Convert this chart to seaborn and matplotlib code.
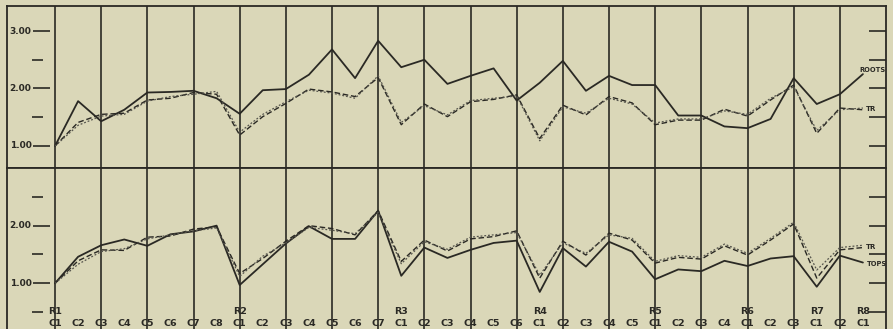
import numpy as np
import pandas as pd
import matplotlib
matplotlib.use("Agg")
import matplotlib.pyplot as plt
import seaborn as sns

# ---------------------------------------------------------------
# data (36 positions, R1 C1 .. R8 C1)
# ---------------------------------------------------------------
groups = ["R1", "R2", "R3", "R4", "R5", "R6", "R7", "R8"]
group_sizes = [8, 7, 6, 5, 4, 3, 2, 1]

roots = [1.00, 1.78, 1.43, 1.63, 1.93, 1.94, 1.96, 1.83,
         1.56, 1.97, 1.99, 2.24, 2.68, 2.18, 2.83,
         2.37, 2.50, 2.08, 2.22, 2.35, 1.79,
         2.10, 2.48, 1.96, 2.22, 2.06,
         2.06, 1.53, 1.53, 1.34,
         1.31, 1.47, 2.18,
         1.73, 1.90,
         2.25]
tr_top = [1.00, 1.41, 1.55, 1.57, 1.80, 1.83, 1.93, 1.90,
          1.19, 1.51, 1.74, 1.99, 1.94, 1.86, 2.19,
          1.37, 1.73, 1.51, 1.77, 1.81, 1.89,
          1.13, 1.71, 1.54, 1.86, 1.75,
          1.37, 1.45, 1.45, 1.64,
          1.52, 1.80, 2.06,
          1.22, 1.66,
          1.63]
tr2_top = [1.00, 1.36, 1.52, 1.55, 1.78, 1.86, 1.90, 1.95,
           1.24, 1.55, 1.77, 1.97, 1.92, 1.83, 2.22,
           1.41, 1.70, 1.54, 1.79, 1.83, 1.87,
           1.09, 1.68, 1.57, 1.83, 1.73,
           1.40, 1.47, 1.47, 1.61,
           1.55, 1.83, 2.03,
           1.27, 1.63,
           1.66]

tops = [1.00, 1.46, 1.66, 1.76, 1.65, 1.85, 1.90, 2.00,
        0.97, 1.33, 1.69, 1.99, 1.77, 1.77, 2.26,
        1.13, 1.62, 1.44, 1.58, 1.70, 1.74,
        0.85, 1.61, 1.29, 1.72, 1.55,
        1.07, 1.24, 1.21, 1.39,
        1.30, 1.43, 1.47,
        0.94, 1.48,
        1.36]
tr_bot = [1.00, 1.39, 1.58, 1.57, 1.80, 1.82, 1.94, 1.98,
          1.17, 1.43, 1.73, 2.00, 1.95, 1.84, 2.26,
          1.38, 1.75, 1.56, 1.77, 1.81, 1.91,
          1.09, 1.73, 1.49, 1.87, 1.75,
          1.35, 1.45, 1.42, 1.65,
          1.49, 1.75, 2.03,
          1.09, 1.58,
          1.62]
tr2_bot = [1.00, 1.33, 1.55, 1.60, 1.77, 1.84, 1.91, 1.96,
           1.12, 1.47, 1.70, 1.97, 1.92, 1.86, 2.23,
           1.34, 1.72, 1.59, 1.80, 1.84, 1.88,
           1.14, 1.70, 1.52, 1.84, 1.78,
           1.38, 1.48, 1.45, 1.68,
           1.52, 1.78, 2.06,
           1.23, 1.62,
           1.66]

top_major = [1.0, 2.0, 3.0]
top_minor = [1.5, 2.5]
bot_major = [1.0, 2.0]
bot_minor = [0.5, 1.5, 2.5]

# category labels
cat_labels = []
group_start = []
for g, n in zip(groups, group_sizes):
    group_start.append(len(cat_labels))
    cat_labels += ["C{}".format(i + 1) for i in range(n)]
idx = np.arange(len(cat_labels))

bg = "#dad7b8"
ink = "#2a2924"

sns.set_style("white", {"axes.facecolor": bg, "figure.facecolor": bg})
plt.rcParams["font.family"] = ["DejaVu Sans"]

fig = plt.figure(figsize=(8.93, 3.29), dpi=100)
fig.patch.set_facecolor(bg)
left, width = 7 / 893, 879 / 893
ax_top = fig.add_axes([left, 1 - 168 / 329, width, 162 / 329])
ax_bot = fig.add_axes([left, 0.0, width, 161 / 329])

panels = [
    (ax_top, roots, tr_top, tr2_top, (0.617, 3.435), top_major, top_minor),
    (ax_bot, tops, tr_bot, tr2_bot, (0.207, 3.0), bot_major, bot_minor),
]

for ax, solid, dash1, dash2, ylim, major, minor in panels:
    df = pd.DataFrame({"idx": idx, "solid": solid, "d1": dash1, "d2": dash2})
    sns.lineplot(data=df, x="idx", y="solid", ax=ax, color=ink, lw=1.3)
    sns.lineplot(data=df, x="idx", y="d1", ax=ax, color=ink, lw=1.0,
                 dashes=False, linestyle=(0, (4, 2)))
    sns.lineplot(data=df, x="idx", y="d2", ax=ax, color="#55544c", lw=0.9,
                 linestyle=(0, (1.5, 1.5)))

    ax.set_xlim(-2.08, 36)
    ax.set_ylim(*ylim)
    ax.set_xticks(np.arange(0, 36, 2))
    ax.set_yticks([])
    ax.tick_params(length=0, labelbottom=False)
    ax.grid(axis="x", color=ink, lw=1.2)
    ax.set_xlabel("")
    ax.set_ylabel("")
    for s in ax.spines.values():
        s.set_color(ink)
        s.set_linewidth(1.3)

    # the little dashes standing in for ticks, both sides
    ytr = ax.get_yaxis_transform()
    ax.hlines(major, 0.030, 0.049, transform=ytr, color=ink, lw=1.2)
    ax.hlines(minor, 0.029, 0.041, transform=ytr, color=ink, lw=1.2)
    ax.hlines(major + minor, 0.981, 1.0, transform=ytr, color=ink, lw=1.2)

ax_bot.spines["bottom"].set_visible(False)

# y labels inside the frame
for ax, major in [(ax_top, top_major), (ax_bot, bot_major)]:
    for v in major:
        if v <= ax.get_ylim()[1] - 0.3:
            ax.text(0.028, v, "{:.2f}".format(v), transform=ax.get_yaxis_transform(),
                    ha="right", va="center", fontsize=6.5, fontweight="bold", color=ink)

# category labels along the bottom
xtr = ax_bot.get_xaxis_transform()
for i, lab in zip(idx, cat_labels):
    ax_bot.text(i, 0.035, lab, transform=xtr, ha="center", va="center",
                fontsize=6.8, fontweight="bold", color=ink)
for g, s in zip(groups, group_start):
    ax_bot.text(s, 0.11, g, transform=xtr, ha="center", va="center",
                fontsize=6.8, fontweight="bold", color=ink)

# series names at the line ends
last = idx[-1]
ax_top.annotate("ROOTS", (last, roots[-1]), xytext=(-4, 4), textcoords="offset pixels",
                ha="left", va="center", fontsize=4.8, fontweight="bold", color=ink)
ax_top.annotate("TR", (last, tr_top[-1]), xytext=(3, 1), textcoords="offset pixels",
                ha="left", va="center", fontsize=5, fontweight="bold", color=ink)
ax_bot.annotate("TR", (last, tr_bot[-1]), xytext=(3, 1), textcoords="offset pixels",
                ha="left", va="center", fontsize=5, fontweight="bold", color=ink)
ax_bot.annotate("TOPS", (last, tops[-1]), xytext=(4, -1), textcoords="offset pixels",
                ha="left", va="center", fontsize=4.8, fontweight="bold", color=ink)

fig.savefig("out.png", dpi=100, facecolor=bg)
print("saved out.png")
